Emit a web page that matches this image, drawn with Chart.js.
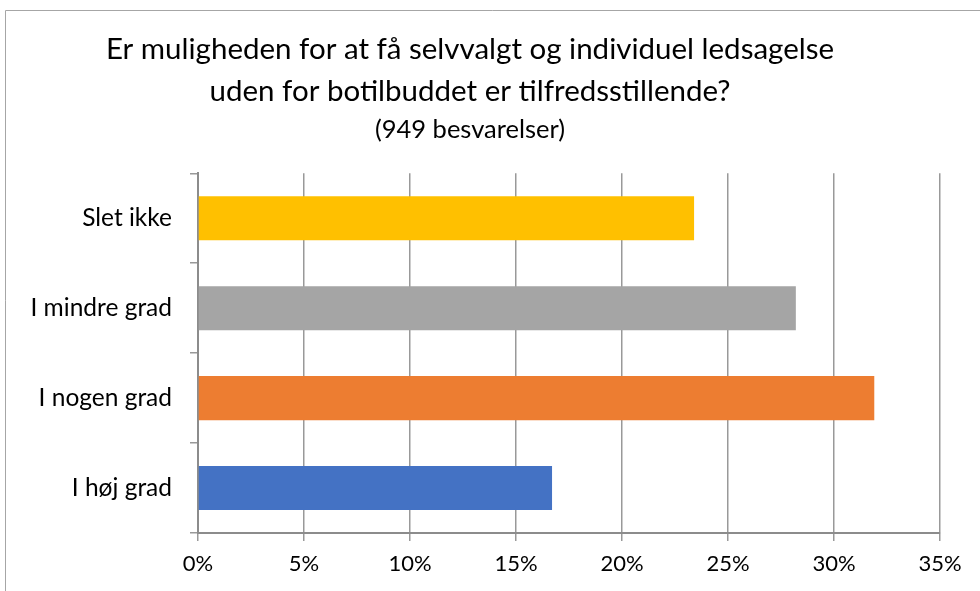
<!DOCTYPE html>
<html>
<head>
<meta charset="utf-8">
<script src="https://cdn.jsdelivr.net/npm/chart.js@4"></script>
<style>
  html, body { margin: 0; padding: 0; background: #fff; }
  #wrap { width: 980px; height: 591px; }
</style>
</head>
<body>
<div id="wrap"><canvas id="chart" width="980" height="591"></canvas></div>
<script>
// data, top to bottom as in the picture
const categories = ['Slet ikke', 'I mindre grad', 'I nogen grad', 'I høj grad'];
const shares = [23.4, 28.2, 31.9, 16.7];
const barColors = ['#FFC000', '#A5A5A5', '#ED7D31', '#4472C4'];
const titleLines = ['Er muligheden for at få selvvalgt og individuel ledsagelse', 'uden for botilbuddet er tilfredsstillende?'];
const subtitleText = '(949 besvarelser)';

const FONT = 'Lato, "Open Sans", sans-serif';
const GRID = '#999999';

// thin frame along the top and left edge, like the cropped chart box
const framePlugin = {
  id: 'frame',
  beforeDraw(chart) {
    const ctx = chart.ctx;
    ctx.save();
    ctx.strokeStyle = '#a6a6a6';
    ctx.lineWidth = 1;
    ctx.beginPath();
    ctx.moveTo(5.5, chart.height);
    ctx.lineTo(5.5, 10.5);
    ctx.lineTo(chart.width, 10.5);
    ctx.stroke();
    ctx.restore();
  }
};

new Chart(document.getElementById('chart'), {
  type: 'bar',
  data: {
    labels: categories,
    datasets: [{
      data: shares,
      backgroundColor: barColors,
      borderWidth: 0,
      barPercentage: 0.49,
      categoryPercentage: 1.0
    }]
  },
  options: {
    indexAxis: 'y',
    responsive: false,
    animation: false,
    layout: { padding: { left: 0, right: 40, top: 0, bottom: 0 } },
    plugins: {
      legend: { display: false },
      tooltip: { enabled: false },
      title: {
        display: true,
        text: titleLines,
        color: '#000',
        font: { family: FONT, size: 29.5, weight: 'normal', lineHeight: 1.42 },
        padding: { top: 29, bottom: 0 }
      },
      subtitle: {
        display: true,
        text: subtitleText,
        color: '#000',
        font: { family: FONT, size: 25.5, weight: 'normal', lineHeight: 1.0 },
        padding: { top: 4, bottom: 31 }
      }
    },
    scales: {
      x: {
        min: 0,
        max: 35,
        ticks: {
          stepSize: 5,
          color: '#000',
          padding: 10,
          font: { family: FONT, size: 22 },
          callback: v => v + '%'
        },
        grid: { color: GRID, lineWidth: 1.5, tickLength: 8 },
        border: { color: '#8c8c8c', width: 2 },
        afterFit(scale) { scale.height = 58; }
      },
      y: {
        ticks: {
          color: '#000',
          padding: 18,
          font: { family: FONT, size: 24.5 }
        },
        grid: { drawOnChartArea: false, color: GRID, lineWidth: 1.5, tickLength: 8, offset: true },
        border: { color: '#8c8c8c', width: 2 },
        afterFit(scale) { scale.width = 198; }
      }
    }
  },
  plugins: [framePlugin]
});
</script>
</body>
</html>
